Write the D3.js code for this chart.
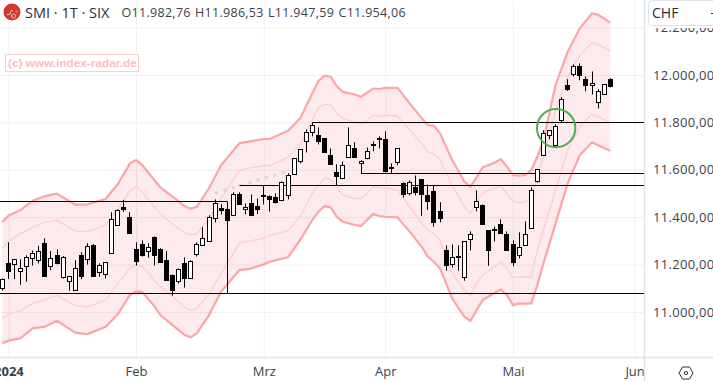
<!DOCTYPE html>
<html>
<head>
<meta charset="utf-8">
<style>
  html, body { margin: 0; padding: 0; background: #fff; overflow: hidden; }
  svg { display: block; font-family: "Open Sans", sans-serif; }
</style>
<script src="https://cdn.jsdelivr.net/npm/d3@7"></script>
</head>
<body>
<div id="main"></div>
<script>
// candles, one entry per trading day
const opens = [
  11098,11205,11201,11172,11193,11226,11218,11291,11193,11239,
  11145,11129,11091,11239,11222,11281,11167,11159,11248,11366,
  11443,11397,11264,11286,11255,11315,11264,11219,11155,11129,
  11205,11142,11243,11281,11297,11395,11437,11433,11408,11497,
  11431,11458,11445,11492,11488,11483,11471,11492,11581,11635,
  11720,11758,11745,11732,11661,11589,11565,11651,11690,11627,
  11647,11707,11732,11728,11610,11631,11543,11500,11526,11559,
  11492,11509,11425,11260,11201,11235,11146,11306,11441,11450,
  11344,11346,11370,11328,11285,11239,11281,11353,11551,11661,
  11745,11703,11809,11956,12003,12037,11982,11956,11885,11918,11982.76];
const highs = [
  11142,11294,11222,11222,11239,11259,11279,11311,11257,11264,
  11236,11150,11218,11252,11290,11286,11205,11210,11421,11433,
  11473,11421,11294,11302,11290,11319,11269,11257,11158,11184,
  11231,11218,11294,11359,11408,11475,11456,11433,11505,11505,
  11458,11496,11479,11534,11492,11500,11551,11585,11648,11686,
  11770,11800,11779,11732,11690,11623,11635,11779,11716,11640,
  11694,11720,11741,11762,11627,11690,11547,11555,11576,11559,
  11538,11534,11463,11281,11285,11281,11298,11340,11513,11454,
  11344,11361,11391,11340,11302,11336,11382,11526,11602,11767,
  11767,11792,11906,11982,12045,12049,11994,12015,11940,11961,11986.53];
const lows = [
  11090,11139,11139,11115,11128,11196,11205,11153,11176,11201,
  11141,11090,11091,11138,11200,11149,11149,11141,11248,11366,
  11423,11331,11196,11234,11229,11196,11208,11136,11069,11120,
  11103,11142,11234,11281,11297,11378,11411,11385,11408,11454,
  11412,11409,11413,11454,11424,11458,11467,11475,11581,11627,
  11673,11741,11707,11673,11623,11534,11564,11651,11651,11585,
  11644,11678,11690,11589,11585,11619,11483,11492,11492,11406,
  11431,11360,11378,11174,11188,11174,11132,11260,11425,11370,
  11195,11298,11332,11260,11193,11226,11281,11353,11546,11661,
  11729,11695,11800,11933,11994,11978,11931,11918,11859,11918,11947.59];
const closes = [
  11138,11170,11222,11184,11231,11248,11256,11153,11226,11204,
  11231,11150,11184,11149,11277,11149,11197,11210,11391,11429,
  11433,11331,11212,11238,11273,11241,11208,11136,11090,11180,
  11141,11214,11286,11311,11399,11459,11428,11385,11497,11454,
  11441,11409,11434,11486,11475,11462,11547,11576,11648,11686,
  11759,11787,11720,11673,11623,11574,11619,11703,11651,11635,
  11678,11703,11730,11592,11607,11690,11496,11547,11505,11496,
  11467,11378,11395,11195,11230,11231,11298,11328,11467,11370,
  11260,11343,11332,11260,11209,11273,11328,11513,11602,11754,
  11767,11783,11897,11940,12037,11999,11956,11965,11931,11961,11954.06];

// envelope, read at these days
const bandDays = [
  0,1,3,5,7,9,12,14,17,19,21,22,23,25,26,28,30,31,32,34,36,39,41,43,44,47,49,51,52,
  53,54,55,56,58,59,60,61,62,63,65,67,69,70,71,72,74,76,77,78,79,81,82,83,84,85,86,87,88,89,91,93,95,97,98,100];
const upperOuter = [
  11380,11406,11430,11470,11489,11499,11453,11454,11477,11540,11627,11641,11620,11557,11526,11487,11446,11436,11444,11522,11620,11712,11721,11730,11730,11765,11817,11923,11975,
  11997,11993,11953,11929,11918,11908,11925,11943,11941,11946,11946,11880,11817,11789,11786,11754,11641,11550,11529,11568,11610,11631,11645,11613,11578,11575,11578,11599,11655,11725,11958,12098,12197,12260,12254,12221];
const upperInner = [
  11269,11297,11332,11357,11378,11387,11340,11340,11366,11433,11512,11527,11508,11444,11413,11371,11335,11325,11332,11391,11479,11599,11609,11617,11617,11653,11705,11810,11865,
  11877,11873,11838,11817,11799,11793,11810,11831,11824,11830,11827,11768,11711,11676,11666,11641,11536,11444,11416,11465,11503,11522,11533,11498,11465,11461,11464,11486,11571,11655,11852,11993,12084,12138,12129,12102];
const lowerInner = [
  10973,10990,11006,11036,11053,11070,11028,11020,11051,11121,11184,11198,11194,11135,11107,11065,11020,11006,11015,11076,11163,11290,11301,11311,11322,11343,11402,11501,11536,
  11564,11557,11529,11493,11479,11479,11500,11529,11524,11522,11515,11444,11374,11346,11329,11304,11163,11093,11071,11121,11156,11191,11212,11184,11145,11149,11149,11149,11261,11346,11515,11683,11782,11835,11824,11799];
const lowerOuter = [
  10868,10879,10889,10931,10938,10963,10913,10907,10938,10990,11072,11087,11084,11025,10987,10945,10903,10893,10910,10987,11086,11177,11184,11201,11212,11231,11304,11388,11423,
  11447,11441,11402,11381,11367,11363,11388,11413,11405,11402,11399,11339,11275,11233,11212,11184,11057,10980,10962,11008,11050,11081,11095,11071,11029,11036,11035,11036,11114,11205,11374,11543,11662,11716,11704,11680];

// drawn horizontal levels, [from day, price]
const levelStart = [-1, -1, 39, 59, 51];
const levelEnd = [37, 110, 110, 110, 110];
const levelPrice = [11467, 11076, 11534, 11585, 11800];

const trendDays = [35, 46.5];
const trendPrices = [11501, 11591];

const priceTicks = [11000, 11200, 11400, 11600, 11800, 12000, 12200];
const monthDays = [1, 22, 43, 63, 84, 104];
const monthLabels = ['2024', 'Feb', 'Mrz', 'Apr', 'Mai', 'Jun'];

const W = 713, H = 381;
const plotW = 644, plotH = 357;

const svg = d3.select('#main').append('svg')
  .attr('width', W)
  .attr('height', H);

svg.append('defs').append('clipPath').attr('id', 'plot')
  .append('rect').attr('width', plotW).attr('height', plotH);

const x = d3.scaleLinear().domain([0, 104]).range([2.3, 634.6]);
const y = d3.scaleLinear().domain([11000, 12000]).range([312, 75]);

const de = d3.formatLocale({ decimal: ',', thousands: '.', grouping: [3], currency: ['', ''] });
const fmt = de.format(',.2f');

// grid
const xAxis = d3.axisBottom(x).tickValues(monthDays).tickSize(-plotH).tickPadding(9)
  .tickFormat((d, i) => monthLabels[i]);
const yAxis = d3.axisRight(y).tickValues(priceTicks).tickSize(-plotW).tickPadding(8.5)
  .tickFormat(fmt);

const gx = svg.append('g').attr('transform', `translate(0,${plotH + 0.5})`).call(xAxis);
const gy = svg.append('g').attr('transform', `translate(${plotW + 0.5},0)`).call(yAxis);

gx.selectAll('.domain').remove();
gy.selectAll('.domain').remove();
gx.selectAll('.tick line').attr('stroke', '#f0f1f4');
gy.selectAll('.tick line').attr('stroke', '#f0f1f4');
gx.selectAll('text')
  .attr('fill', '#3c3f4a')
  .attr('font-size', 13)
  .attr('font-family', '"Open Sans", sans-serif')
  .attr('font-weight', (d, i) => i === 0 ? 700 : 400);
gy.selectAll('text')
  .attr('fill', '#3c3f4a')
  .attr('font-size', 13)
  .attr('letter-spacing', 0.3)
  .attr('font-family', '"Open Sans", sans-serif');

// axis borders
svg.append('line').attr('x1', 0).attr('x2', W).attr('y1', plotH + 0.5).attr('y2', plotH + 0.5)
  .attr('stroke', '#e0e3eb').attr('stroke-width', 1.5);
svg.append('line').attr('x1', plotW + 0.5).attr('x2', plotW + 0.5).attr('y1', 0).attr('y2', H)
  .attr('stroke', '#e0e3eb').attr('stroke-width', 1.5);

const plot = svg.append('g').attr('clip-path', 'url(#plot)');

// envelope
const area = d3.area()
  .x((d, i) => x(bandDays[i]))
  .y0((d, i) => y(lowerOuter[i]))
  .y1((d) => y(d));
const line = d3.line()
  .x((d, i) => x(bandDays[i]))
  .y((d) => y(d));

plot.append('path')
  .attr('d', area(upperOuter))
  .attr('fill', '#e04050')
  .attr('fill-opacity', 0.11);

[upperInner, lowerInner].forEach((s) => {
  plot.append('path').attr('d', line(s))
    .attr('fill', 'none').attr('stroke', '#fcd0d2').attr('stroke-width', 1.4);
});
[upperOuter, lowerOuter].forEach((s) => {
  plot.append('path').attr('d', line(s))
    .attr('fill', 'none').attr('stroke', '#fca5a7').attr('stroke-width', 2.2);
});

// dotted trend
plot.append('line')
  .attr('x1', x(trendDays[0])).attr('y1', y(trendPrices[0]))
  .attr('x2', x(trendDays[1])).attr('y2', y(trendPrices[1]))
  .attr('stroke', '#d4d8e2').attr('stroke-width', 3).attr('stroke-dasharray', '3 5.7');

// levels
const snap = (v) => Math.floor(v) + 0.5;
plot.selectAll('.level')
  .data(levelPrice)
  .enter().append('line')
  .attr('class', 'level')
  .attr('x1', (d, i) => x(levelStart[i]))
  .attr('x2', (d, i) => x(levelEnd[i]))
  .attr('y1', (d) => snap(y(d)))
  .attr('y2', (d) => snap(y(d)))
  .attr('stroke', '#000')
  .attr('stroke-width', 1);
plot.append('line')
  .attr('x1', snap(x(37))).attr('x2', snap(x(37)))
  .attr('y1', snap(y(levelPrice[0]))).attr('y2', snap(y(levelPrice[1])))
  .attr('stroke', '#000').attr('stroke-width', 1);

// candles
const candles = plot.selectAll('.candle')
  .data(closes)
  .enter().append('g')
  .attr('class', 'candle');

candles.append('line')
  .attr('x1', (d, i) => snap(x(i)))
  .attr('x2', (d, i) => snap(x(i)))
  .attr('y1', (d, i) => y(highs[i]))
  .attr('y2', (d, i) => y(lows[i]))
  .attr('stroke', '#000')
  .attr('stroke-width', 1);

candles.append('rect')
  .attr('x', (d, i) => snap(x(i)) - 2)
  .attr('width', 4)
  .attr('y', (d, i) => snap(y(Math.max(opens[i], d))))
  .attr('height', (d, i) => Math.max(1, Math.round(Math.abs(y(opens[i]) - y(d)))))
  .attr('fill', (d, i) => d >= opens[i] ? '#fff' : '#000')
  .attr('stroke', '#000')
  .attr('stroke-width', 1);

// green marker
plot.append('circle')
  .attr('cx', x(91.1))
  .attr('cy', y(11776))
  .attr('r', 19.2)
  .attr('fill', 'none')
  .attr('stroke', '#4caf50')
  .attr('stroke-width', 2);

// watermark
svg.append('rect')
  .attr('x', 5.5).attr('y', 54.5).attr('width', 133).attr('height', 17)
  .attr('fill', '#fff').attr('stroke', '#ffcdd0').attr('stroke-width', 1);
svg.append('text')
  .attr('x', 8).attr('y', 67)
  .attr('font-family', '"Liberation Sans", sans-serif')
  .attr('font-weight', 700)
  .attr('font-size', 11.8)
  .attr('fill', '#ffbcc0')
  .text('(c) www.index-radar.de');

// header
svg.append('circle').attr('cx', 12).attr('cy', 12).attr('r', 8.5).attr('fill', '#cf3a2b');
svg.append('path')
  .attr('d', 'M7 14.5h2.5l2-4h1.5M13.5 14a2 2 0 1 0 .1 0M15.5 12a1.6 1.6 0 0 1 2.2 0')
  .attr('fill', 'none').attr('stroke', '#fff').attr('stroke-width', 0.7);
svg.append('text')
  .attr('x', 25).attr('y', 18)
  .attr('font-size', 14.5)
  .attr('fill', '#2a2e39')
  .text('SMI · 1T · SIX');

const last = closes.length - 1;
const ohlcLabels = ['O', 'H', 'L', 'C'];
const ohlcValues = [opens[last], highs[last], lows[last], closes[last]];
const ohlcX = [121.5, 195, 268, 338.5];
svg.selectAll('.ohlc')
  .data(ohlcValues)
  .enter().append('text')
  .attr('class', 'ohlc')
  .attr('x', (d, i) => ohlcX[i])
  .attr('y', 17)
  .attr('font-size', 12.5)
  .attr('letter-spacing', 0.3)
  .attr('fill', '#3c3f4a')
  .text((d, i) => ohlcLabels[i] + fmt(d));

// currency box, it sits over the top price label
svg.append('rect')
  .attr('x', 646).attr('y', 0).attr('width', 67).attr('height', 28)
  .attr('fill', '#fff');
svg.append('rect')
  .attr('x', 648.5).attr('y', 0.5).attr('width', 80).attr('height', 25).attr('rx', 4)
  .attr('fill', '#fff').attr('stroke', '#dfe2ea');
svg.append('text')
  .attr('x', 652).attr('y', 18)
  .attr('font-size', 14)
  .attr('fill', '#2a2e39')
  .text('CHF');
svg.append('line')
  .attr('x1', 711).attr('x2', 713).attr('y1', 13.5).attr('y2', 13.5)
  .attr('stroke', '#2a2e39');

// settings icon
svg.append('path')
  .attr('d', 'M679 373l3.5-6h7l3.5 6-3.5 6h-7z')
  .attr('fill', 'none').attr('stroke', '#2a2e39').attr('stroke-width', 1);
svg.append('circle').attr('cx', 686).attr('cy', 373).attr('r', 1.6)
  .attr('fill', 'none').attr('stroke', '#2a2e39').attr('stroke-width', 1);
</script>
</body>
</html>
